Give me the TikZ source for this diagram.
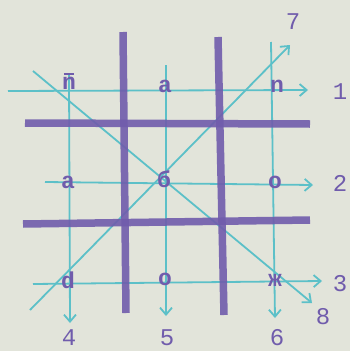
\documentclass[tikz,border=0pt]{standalone}
\usepackage{fontspec}
\setmonofont{Liberation Mono}
\usetikzlibrary{arrows.meta}
\definecolor{paper}{RGB}{226,228,218}
\definecolor{ink}{RGB}{112,92,172}
\definecolor{cyanline}{RGB}{92,192,200}
\newcommand{\nbar}{\makebox[0pt][l]{\raisebox{0.62em}{\hspace{0.08em}\rule{0.42em}{0.11em}}}n}
\begin{document}
\begin{tikzpicture}[x=1pt,y=-1pt,
  bar/.style={draw=ink,line width=7.5pt,opacity=0.9},
  ray/.style={draw=cyanline,line width=1.8pt,-{Straight Barb[length=7pt,width=12pt,line width=1.8pt]}},
  letter/.style={text=ink,font=\ttfamily\bfseries\fontsize{23}{23}\selectfont,inner sep=0pt},
  num/.style={text=ink,font=\ttfamily\fontsize{24}{24}\selectfont,inner sep=0pt}]
\fill[paper] (0,0) rectangle (350,351);
\useasboundingbox (0,0) rectangle (350,351);
% ray coordinates
\coordinate (r1s) at (8,91);   \coordinate (r1e) at (308,90);
\coordinate (r2s) at (45,182); \coordinate (r2e) at (313,185);
\coordinate (r3s) at (33,284); \coordinate (r3e) at (322,281);
\coordinate (c4s) at (69,75);  \coordinate (c4e) at (70,323);
\coordinate (c5s) at (166,65); \coordinate (c5e) at (166,316);
\coordinate (c6s) at (271,42); \coordinate (c6e) at (275,318);
\coordinate (d7s) at (30,310); \coordinate (d7e) at (290,45);
\coordinate (d8s) at (33,71);  \coordinate (d8e) at (312,303);
% bar coordinates
\coordinate (v1s) at (123,32); \coordinate (v1e) at (126,313);
\coordinate (v2s) at (218,37); \coordinate (v2e) at (224,315);
\coordinate (h1s) at (25,123); \coordinate (h1e) at (310,124);
\coordinate (h2s) at (23,224); \coordinate (h2e) at (310,220);
% rays
\foreach \s/\e in {r1s/r1e,r2s/r2e,r3s/r3e,c4s/c4e,c5s/c5e,c6s/c6e,d7s/d7e,d8s/d8e}
  \draw[ray] (\s) -- (\e);
% bars
\foreach \s/\e in {v1s/v1e,v2s/v2e,h1s/h1e,h2s/h2e}
  \draw[bar] (\s) -- (\e);
% letters
\node[letter] (m11) at (69,81) {\nbar};
\node[letter] (m12) at (165,86) {a};
\node[letter] (m13) at (277,86) {n};
\node[letter] (m21) at (68,182) {a};
\node[letter] (m22) at (164,179) {б};
\node[letter] (m23) at (275,182) {o};
\node[letter] (m31) at (68,280) {d};
\node[letter] (m32) at (165,279) {o};
\node[letter] (m33) at (275,280) {ж};
% numbers
\node[num] (l1) at (340,92) {1};
\node[num] (l2) at (340,183) {2};
\node[num] (l3) at (340,284) {3};
\node[num] (l4) at (69,338) {4};
\node[num] (l5) at (167,338) {5};
\node[num] (l6) at (277,338) {6};
\node[num] (l7) at (293,22) {7};
\node[num] (l8) at (323,317) {8};
\end{tikzpicture}
\end{document}
